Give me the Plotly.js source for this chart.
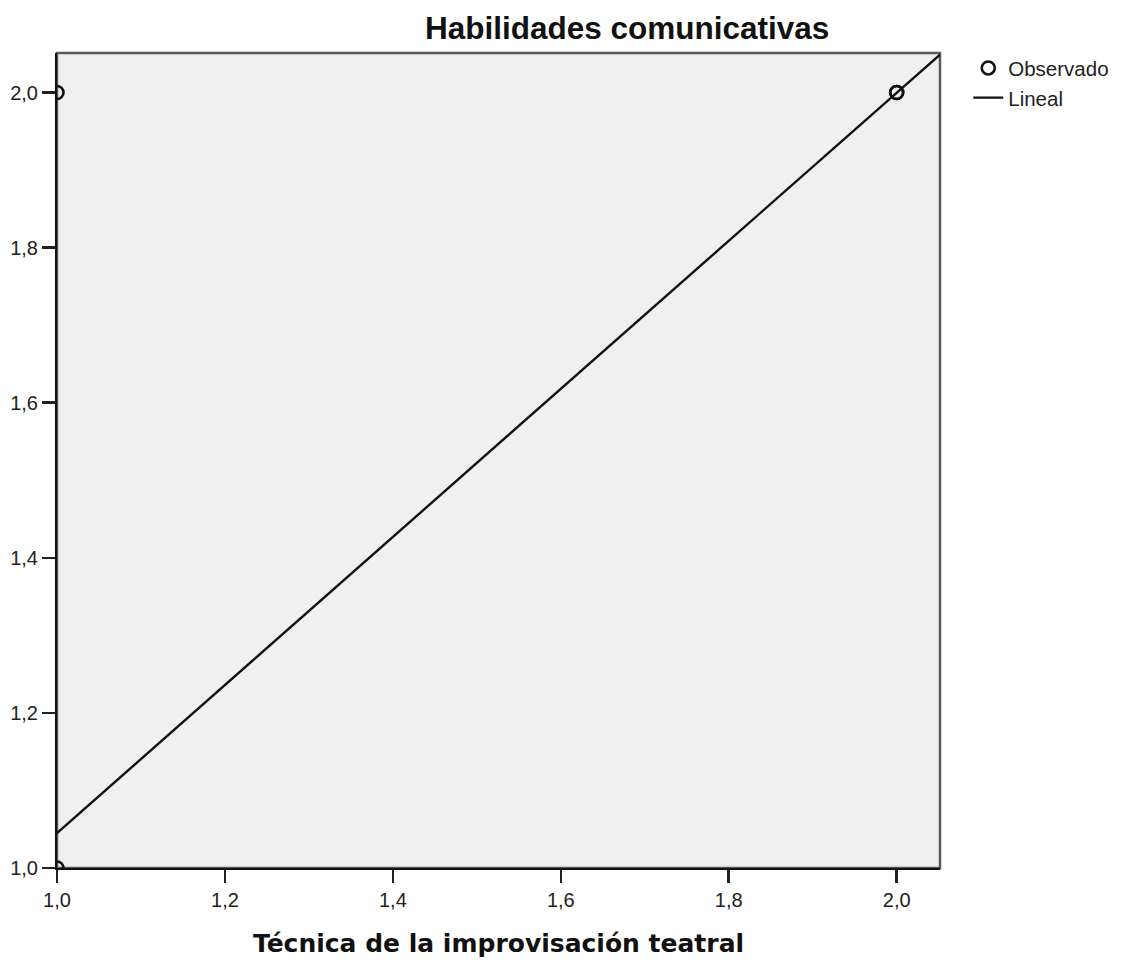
<!DOCTYPE html>
<html>
<head>
<meta charset="utf-8">
<script src="https://cdn.plot.ly/plotly-3.0.1.min.js"></script>
<style>html,body{margin:0;padding:0;background:#fff;}#chart{width:1128px;height:960px;}</style>
</head>
<body>
<div id="chart"></div>
<script>
// Observed points (Técnica de la improvisación teatral vs Habilidades comunicativas)
const obsX = [1.0, 1.0, 2.0, 2.0];
const obsY = [2.0, 1.0, 2.0, 2.0];
// Linear fit line, read at the plot edges
const fitX = [1.0, 2.0516];
const fitY = [1.045, 2.049];
// Ticks
const tickVals = [1.0, 1.2, 1.4, 1.6, 1.8, 2.0];
const tickText = ['1,0', '1,2', '1,4', '1,6', '1,8', '2,0'];
const seriesNames = ['Observado', 'Lineal'];

const traces = [
  {
    x: obsX, y: obsY, type: 'scatter', mode: 'markers', name: seriesNames[0],
    marker: {symbol: 'circle-open', size: 13, color: '#111', line: {width: 2.6, color: '#111'}},
    cliponaxis: true
  },
  {
    x: fitX, y: fitY, type: 'scatter', mode: 'lines', name: seriesNames[1],
    line: {color: '#111', width: 2.4}
  }
];

const layout = {
  width: 1128, height: 960,
  margin: {l: 57, r: 188, t: 53, b: 92, pad: 0},
  paper_bgcolor: '#ffffff',
  plot_bgcolor: '#f0f0f0',
  font: {family: 'Arial, "Liberation Sans", sans-serif', size: 20, color: '#222'},
  title: {
    text: 'Habilidades comunicativas',
    font: {family: 'Arial, "Liberation Sans", sans-serif', size: 31.5, weight: 'bold', color: '#111'},
    xref: 'container', x: 0.556, xanchor: 'center',
    yref: 'container', y: 0.971, yanchor: 'middle'
  },
  xaxis: {
    range: [1.0, 2.0516], tickvals: tickVals, ticktext: tickText,
    ticks: 'outside', ticklen: 13, tickwidth: 2.5, tickcolor: '#222',
    showgrid: false, zeroline: false,
    showline: true, linecolor: '#111', linewidth: 2,
    tickfont: {size: 20, color: '#222'},
    title: {text: 'Técnica de la improvisación teatral', standoff: 24,
      font: {family: '"DejaVu Sans", Verdana, sans-serif', size: 25, weight: 'bold', color: '#111'}}
  },
  yaxis: {
    range: [1.0, 2.051], tickvals: tickVals, ticktext: tickText,
    ticks: 'outside', ticklen: 13, tickwidth: 2.5, tickcolor: '#222',
    showgrid: false, zeroline: false,
    showline: true, linecolor: '#111', linewidth: 2,
    tickfont: {size: 20, color: '#222'}
  },
  shapes: [
    {type: 'rect', xref: 'paper', yref: 'paper', x0: 0, x1: 1, y0: 0, y1: 1,
     line: {color: '#5a5a5a', width: 2.5}, fillcolor: 'rgba(0,0,0,0)', layer: 'below'}
  ],
  showlegend: true,
  legend: {
    x: 1.032, xanchor: 'left', y: 1.006, yanchor: 'top',
    bgcolor: 'rgba(0,0,0,0)', borderwidth: 0,
    font: {size: 20.5, color: '#222'}, tracegroupgap: 0, itemwidth: 30
  }
};

Plotly.newPlot('chart', traces, layout, {displayModeBar: false, staticPlot: true});
</script>
</body>
</html>
